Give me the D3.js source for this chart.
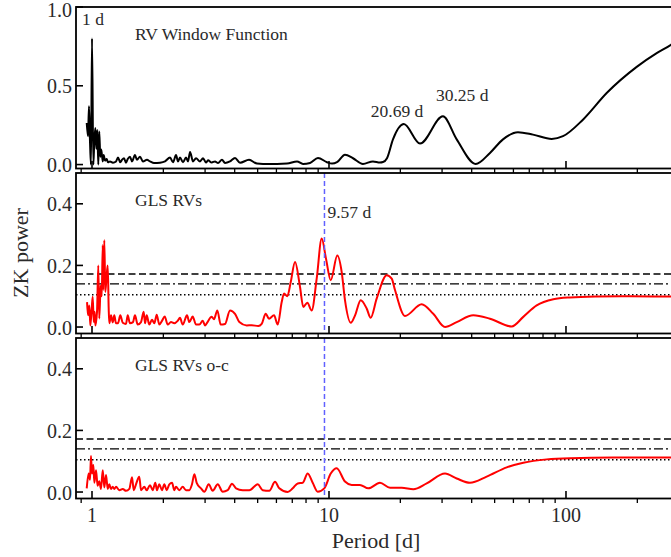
<!DOCTYPE html>
<html>
<head>
<meta charset="utf-8">
<script src="https://cdn.jsdelivr.net/npm/d3@7"></script>
<style>
  body { margin: 0; background: #fff; }
  svg { display: block; }
</style>
</head>
<body>
<svg id="chart" width="671" height="557"></svg>
<script>
// ---- data: window function of the RV sampling ----
const wfPeriod = [0.950, 0.962, 0.971, 0.981, 0.990, 1.000, 1.013, 1.023, 1.033, 1.043, 1.053, 1.063, 1.073, 1.084, 1.094,
  1.110, 1.120, 1.135, 1.153, 1.168, 1.191, 1.226, 1.263, 1.287, 1.316, 1.338, 1.365, 1.391, 1.415, 1.446, 1.475, 1.518,
  1.548, 1.594, 1.641, 1.706, 1.757, 1.827, 1.936, 2.033, 2.134, 2.197, 2.262, 2.307, 2.351, 2.421, 2.493, 2.542, 2.592,
  2.669, 2.747, 2.856, 2.941, 3.027, 3.087, 3.200, 3.304, 3.402, 3.536, 3.641, 3.822, 4.013, 4.213, 4.598, 4.969, 5.267,
  6.035, 6.651, 7.330, 7.769, 8.314, 8.986, 9.807, 10.30, 10.81, 11.68, 12.63, 13.91, 15.33, 16.41, 16.90, 17.57, 18.62,
  20.69, 24.21, 30.25, 34.58, 41.59, 47.78, 54.22, 62.72, 72.56, 87.04, 97.13, 117.9, 148.5, 198.8, 241.4, 277.3, 290];
const wfPower = [0.264, 0.18, 0.37, 0.14, 0.0, 0.80, 0.0, 0.158, 0.232, 0.10, 0.22, 0.0, 0.21, 0.05, 0.095,
  0.02, 0.06, 0.025, 0.035, 0.015, 0.02, 0.012, 0.02, 0.045, 0.015, 0.03, 0.04, 0.012, 0.035, 0.05, 0.02, 0.06,
  0.03, 0.05, 0.02, 0.03, 0.02, 0.01, 0.012, 0.02, 0.045, 0.015, 0.06, 0.02, 0.045, 0.015, 0.045, 0.02, 0.08,
  0.02, 0.04, 0.02, 0.04, 0.013, 0.027, 0.013, 0.02, 0.01, 0.03, 0.01, 0.02, 0.042, 0.012, 0.03, 0.006, 0.004,
  0.004, 0.006, 0.02, 0.004, 0.01, 0.042, 0.015, 0.006, 0.015, 0.063, 0.04, 0.004, 0.02, 0.013, 0.016, 0.04, 0.16,
  0.257, 0.133, 0.306, 0.16, 0.004, 0.074, 0.16, 0.205, 0.19, 0.163, 0.18, 0.285, 0.454, 0.62, 0.707, 0.76, 0.78];

// ---- data: GLS periodogram of the RVs ----
const glsPeriod = [0.953, 0.962, 0.974, 0.984, 0.997, 1.007, 1.017, 1.026, 1.033, 1.050, 1.063, 1.073, 1.088, 1.099,
  1.110, 1.116, 1.127, 1.138, 1.153, 1.165, 1.176, 1.183, 1.203, 1.223, 1.242, 1.263, 1.287, 1.316, 1.348, 1.391,
  1.415, 1.446, 1.489, 1.518, 1.559, 1.610, 1.652, 1.674, 1.701, 1.745, 1.791, 1.833, 1.875, 1.923, 1.974, 2.027,
  2.086, 2.154, 2.225, 2.299, 2.351, 2.414, 2.517, 2.574, 2.660, 2.747, 2.837, 2.932, 3.000, 3.048, 3.200, 3.272,
  3.379, 3.492, 3.641, 3.822, 4.013, 4.184, 4.496, 4.720, 5.032, 5.200, 5.407, 5.583, 5.862, 6.076, 6.316, 6.459,
  6.670, 6.895, 7.189, 7.546, 7.792, 8.099, 8.453, 8.873, 9.316, 9.713, 10.17, 10.84, 11.31, 11.68, 12.35, 12.88,
  13.61, 14.42, 14.99, 15.89, 17.52, 18.39, 18.99, 20.92, 24.61, 27.54, 30.87, 34.58, 40.63, 47.78, 59.00, 66.04,
  75.21, 88.41, 103.96, 134.8, 186.2, 277.3, 290];
const glsPower = [0.081, 0.038, 0.07, 0.005, 0.06, 0.098, 0.016, 0.05, 0.005, 0.05, 0.20, 0.028, 0.135, 0.10,
  0.266, 0.12, 0.282, 0.114, 0.168, 0.20, 0.06, 0.012, 0.038, 0.015, 0.038, 0.012, 0.012, 0.038, 0.014, 0.01,
  0.038, 0.012, 0.016, 0.038, 0.008, 0.016, 0.05, 0.012, 0.038, 0.008, 0.024, 0.012, 0.04, 0.008, 0.02, 0.034,
  0.008, 0.016, 0.012, 0.02, 0.03, 0.008, 0.038, 0.016, 0.034, 0.008, 0.008, 0.02, 0.005, 0.012, 0.033, 0.025,
  0.054, 0.008, 0.01, 0.054, 0.043, 0.016, 0.005, 0.006, 0.003, 0.01, 0.043, 0.027, 0.038, 0.008, 0.081, 0.109,
  0.10, 0.146, 0.211, 0.13, 0.065, 0.079, 0.054, 0.157, 0.287, 0.222, 0.152, 0.232, 0.179, 0.087, 0.014, 0.038,
  0.087, 0.06, 0.03, 0.092, 0.168, 0.157, 0.12, 0.036, 0.074, 0.043, 0.0, 0.016, 0.038, 0.027, 0.002, 0.033,
  0.07, 0.09, 0.096, 0.099, 0.10, 0.099, 0.099];

// ---- data: GLS periodogram of the residuals (o-c) ----
const resPeriod = [0.950, 0.968, 0.981, 0.990, 1.000, 1.013, 1.023, 1.040, 1.056, 1.073, 1.091, 1.110, 1.127, 1.146,
  1.165, 1.183, 1.203, 1.223, 1.242, 1.263, 1.304, 1.348, 1.391, 1.437, 1.475, 1.500, 1.533, 1.583, 1.610, 1.662,
  1.701, 1.757, 1.804, 1.850, 1.880, 1.923, 1.974, 2.019, 2.066, 2.120, 2.176, 2.225, 2.262, 2.336, 2.414, 2.493,
  2.574, 2.642, 2.703, 2.765, 2.884, 2.978, 3.108, 3.231, 3.392, 3.560, 3.737, 3.897, 4.052, 4.324, 4.611, 5.003,
  5.251, 5.598, 5.919, 6.170, 6.697, 7.030, 7.380, 7.746, 8.131, 8.535, 8.960, 9.554, 10.17, 10.78, 11.68, 12.47,
  13.51, 14.65, 16.41, 18.09, 20.27, 22.69, 25.84, 30.87, 34.58, 39.35, 46.27, 56.21, 66.04, 82.91, 103.96, 158.3,
  277.3, 290];
const resPower = [0.012, 0.06, 0.04, 0.117, 0.06, 0.088, 0.03, 0.071, 0.02, 0.035, 0.01, 0.071, 0.015, 0.055,
  0.01, 0.025, 0.01, 0.017, 0.01, 0.017, 0.006, 0.01, 0.004, 0.01, 0.048, 0.006, 0.025, 0.05, 0.006, 0.017,
  0.006, 0.022, 0.006, 0.03, 0.006, 0.025, 0.006, 0.025, 0.006, 0.025, 0.03, 0.006, 0.017, 0.006, 0.017, 0.006,
  0.006, 0.025, 0.058, 0.03, 0.012, 0.001, 0.025, 0.004, 0.025, 0.001, 0.006, 0.027, 0.012, 0.006, 0.006, 0.025,
  0.006, 0.004, 0.033, 0.012, 0.0, 0.012, 0.028, 0.03, 0.06, 0.03, 0.001, 0.012, 0.06, 0.077, 0.034, 0.023,
  0.023, 0.012, 0.03, 0.014, 0.014, 0.009, 0.028, 0.06, 0.044, 0.03, 0.05, 0.08, 0.095, 0.106, 0.11, 0.112,
  0.112, 0.112];

// false-alarm levels drawn in the GLS panels
const faLevels = [0.172, 0.140, 0.105];
const faDash = ["7,3.5", "9,3,2,3", "1.5,2.5"];

// highlighted period and annotated peaks
const markedPeriod = 9.57;
const wfPeaks = [{ p: 20.69, text: "20.69 d" }, { p: 30.25, text: "30.25 d" }];

// axis ticks
const xMajor = [1, 10, 100];
const xMajorLabels = ["1", "10", "100"];
const xMinor = [0.9, 2, 3, 4, 5, 6, 7, 8, 9, 20, 30, 40, 50, 60, 70, 80, 90, 200];
const yTicksWF = [0, 0.5, 1.0];
const yTicksGLS = [0, 0.2, 0.4];

const FONT = "'Liberation Serif'";
const TEXT_COLOR = "#2a2a2a";
const svg = d3.select("#chart");
const x = d3.scaleLog().domain([0.856, 285.6]).range([76, 674]);

const panels = [
  { top: 7, bottom: 168.5, domain: [-0.025, 1.0], ticks: yTicksWF, period: wfPeriod, power: wfPower, color: "#000", title: "RV Window Function", fa: false },
  { top: 173, bottom: 333.5, domain: [-0.021, 0.5], ticks: yTicksGLS, period: glsPeriod, power: glsPower, color: "#ff0000", title: "GLS RVs", fa: true },
  { top: 338, bottom: 498.5, domain: [-0.021, 0.5], ticks: yTicksGLS, period: resPeriod, power: resPower, color: "#ff0000", title: "GLS RVs o-c", fa: true }
];

const x0 = x.range()[0], x1 = x.range()[1];

function label(sel) {
  return sel.append("text").attr("font-family", FONT).attr("fill", TEXT_COLOR);
}

panels.forEach((pn, i) => {
  const y = d3.scaleLinear().domain(pn.domain).range([pn.bottom, pn.top]);
  const g = svg.append("g");
  const clipId = "clip" + i;
  svg.append("clipPath").attr("id", clipId)
    .append("rect").attr("x", x0).attr("y", pn.top).attr("width", x1 - x0).attr("height", pn.bottom - pn.top);

  const plot = g.append("g").attr("clip-path", `url(#${clipId})`);

  // false-alarm-probability levels
  if (pn.fa) {
    faLevels.forEach((lv, k) => {
      plot.append("line")
        .attr("x1", x0).attr("x2", x1)
        .attr("y1", y(lv)).attr("y2", y(lv))
        .attr("stroke", "#000").attr("stroke-width", 1.4)
        .attr("stroke-dasharray", faDash[k]);
    });
  }

  // periodogram curve
  const pts = pn.period.map((p, k) => [p, pn.power[k]]);
  const line = d3.line().x(d => x(d[0])).y(d => y(d[1])).curve(d3.curveMonotoneX);
  plot.append("path").datum(pts)
    .attr("d", line)
    .attr("fill", "none")
    .attr("stroke", pn.color)
    .attr("stroke-width", 2)
    .attr("stroke-linejoin", "round");

  // marked period
  if (pn.fa) {
    plot.append("line")
      .attr("x1", x(markedPeriod)).attr("x2", x(markedPeriod))
      .attr("y1", pn.top).attr("y2", pn.bottom)
      .attr("stroke", "#6060ff").attr("stroke-width", 1.5)
      .attr("stroke-dasharray", "5,3");
  }

  // frame
  g.append("rect")
    .attr("x", x0).attr("y", pn.top)
    .attr("width", x1 - x0).attr("height", pn.bottom - pn.top)
    .attr("fill", "none").attr("stroke", "#000").attr("stroke-width", 1.8);

  // y ticks (inward) and labels
  pn.ticks.forEach(t => {
    g.append("line").attr("x1", x0).attr("x2", x0 + 7)
      .attr("y1", y(t)).attr("y2", y(t))
      .attr("stroke", "#000").attr("stroke-width", 1.6);
    label(g).attr("x", x0 - 4).attr("y", Math.max(y(t) + 7.5, 17))
      .attr("text-anchor", "end").attr("font-size", 20)
      .text(d3.format(".1f")(t));
  });

  // x major ticks (inward) and minor ticks (outward) at the bottom
  xMajor.forEach(t => {
    g.append("line").attr("x1", x(t)).attr("x2", x(t))
      .attr("y1", pn.bottom).attr("y2", pn.bottom - 7.5)
      .attr("stroke", "#000").attr("stroke-width", 1.6);
  });
  xMinor.forEach(t => {
    g.append("line").attr("x1", x(t)).attr("x2", x(t))
      .attr("y1", pn.bottom).attr("y2", pn.bottom + 4.5)
      .attr("stroke", "#000").attr("stroke-width", 1.3);
  });

  // panel title
  label(g).attr("x", 135).attr("y", pn.top + 33)
    .attr("font-size", 17.5).text(pn.title);
});

// annotations in the window-function panel
label(svg).attr("x", 82).attr("y", 25).attr("font-size", 17.5).text("1 d");
const wfLabelPos = [{ dx: -33, y: 117 }, { dx: -7, y: 101 }];
wfPeaks.forEach((pk, k) => {
  label(svg)
    .attr("x", x(pk.p) + wfLabelPos[k].dx).attr("y", wfLabelPos[k].y)
    .attr("font-size", 17.5).text(pk.text);
});

// label of the marked period
label(svg).attr("x", x(markedPeriod) + 3).attr("y", 218)
  .attr("font-size", 17.5).text(markedPeriod + " d");

// x tick labels under the bottom panel
xMajor.forEach((t, k) => {
  label(svg).attr("x", x(t)).attr("y", 522)
    .attr("text-anchor", "middle").attr("font-size", 20)
    .text(xMajorLabels[k]);
});

// axis titles
label(svg).attr("x", 376).attr("y", 548)
  .attr("text-anchor", "middle").attr("font-size", 22)
  .text("Period [d]");
label(svg)
  .attr("transform", "translate(28,253) rotate(-90)")
  .attr("text-anchor", "middle").attr("font-size", 22)
  .text("ZK power");
</script>
</body>
</html>
